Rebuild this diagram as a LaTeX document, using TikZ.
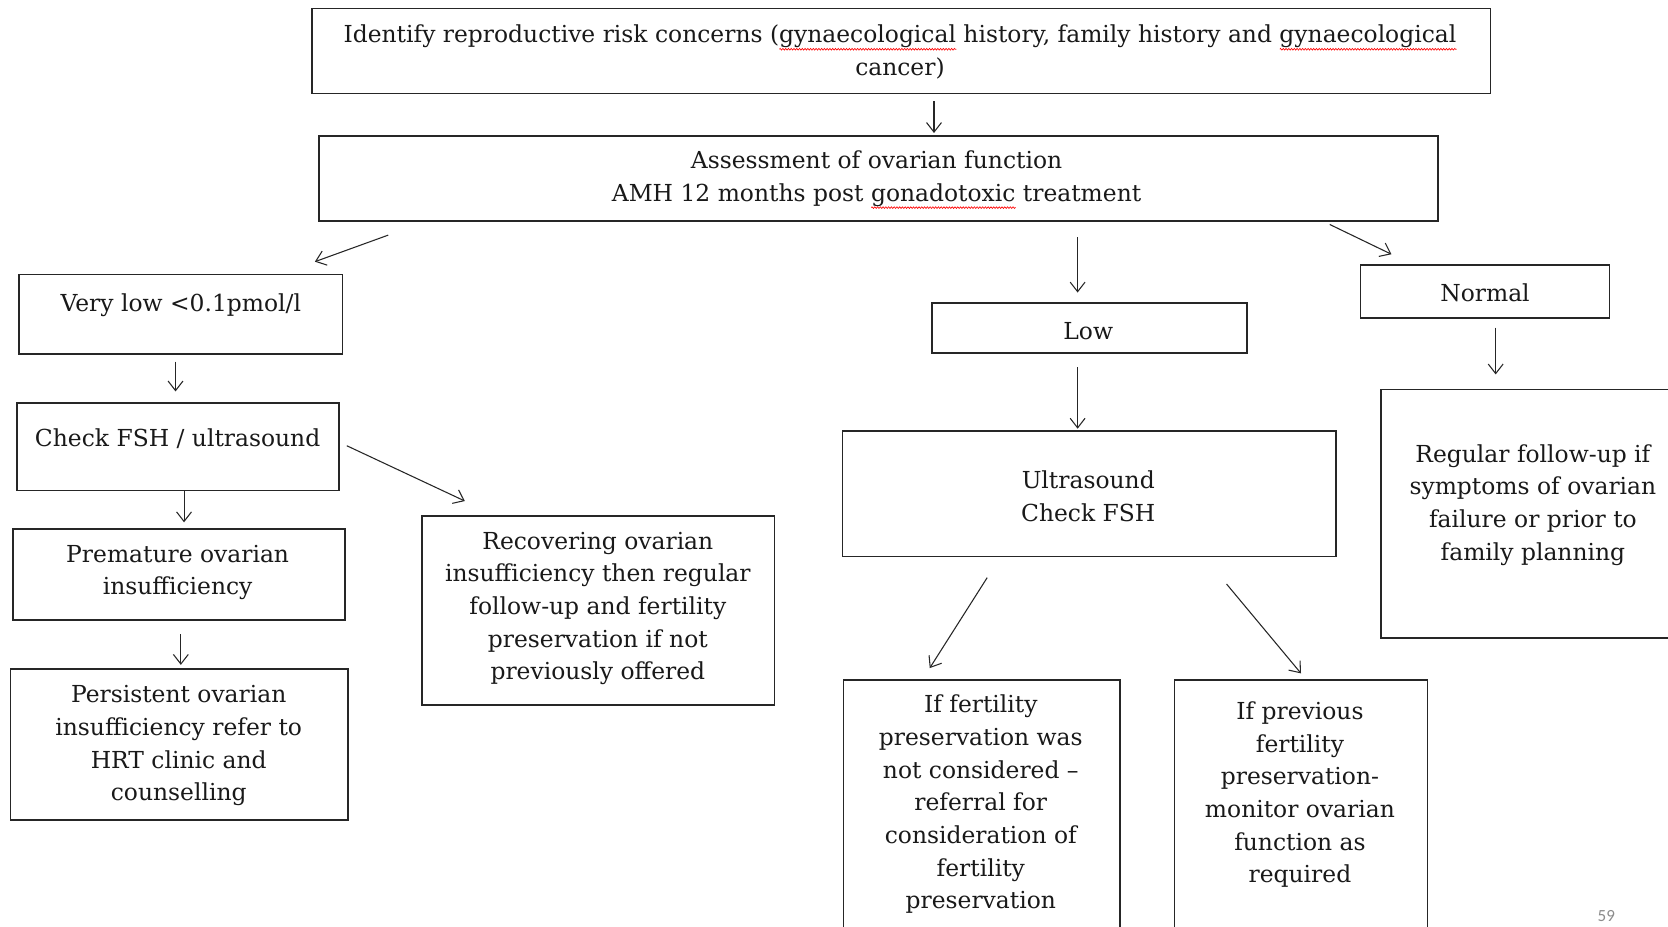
\documentclass[tikz,border=0pt]{standalone}
\usepackage{fontspec}
\setmainfont{DejaVu Serif}
\newfontfamily\pagenumfont{Carlito}
\usetikzlibrary{arrows.meta,decorations.pathmorphing}
\newsavebox\sqbox
\newcommand\redsq[1]{\sbox\sqbox{#1}\rlap{\tikz[baseline=0pt,x=1pt,y=1pt]{\draw[red,line width=0.6pt,decorate,decoration={zigzag,segment length=2.6pt,amplitude=0.8pt}] (0pt,-6pt) -- (\wd\sqbox,-6pt);}}\usebox\sqbox}
\begin{document}
\begin{tikzpicture}[x=1pt,y=-1pt,
  box/.style={draw=black!85, line width=1.6pt, inner sep=0pt, rectangle},
  txt/.style={align=center, inner sep=0pt, text=black!90, font=\fontsize{22}{30.7}\selectfont},
  arr/.style={draw=black!85, line width=1pt, -{Straight Barb[length=9pt,width=14pt,line width=1pt]}}]
\useasboundingbox (0,0) rectangle (1568,871);
\clip (0,0) rectangle (1568,871);
\fill[white] (0,0) rectangle (1568,871);

% boxes
\node[box, minimum width=1108pt, minimum height=80pt] (b1) at (847,48) {};
\node[box, minimum width=1052pt, minimum height=80pt] (b2) at (826,168) {};
\node[box, minimum width=304pt, minimum height=75pt] (b3) at (170,295.5) {};
\node[box, minimum width=303pt, minimum height=82pt] (b4) at (167.5,420) {};
\node[box, minimum width=312pt, minimum height=86pt] (b5) at (168,540) {};
\node[box, minimum width=317pt, minimum height=142pt] (b6) at (168.5,700) {};
\node[box, minimum width=331pt, minimum height=178pt] (b7) at (562.5,574) {};
\node[box, minimum width=296pt, minimum height=47pt] (b8) at (1024,308.5) {};
\node[box, minimum width=234pt, minimum height=50pt] (b9) at (1396,274) {};
\node[box, minimum width=464pt, minimum height=118pt] (b10) at (1024,464) {};
\node[box, minimum width=322pt, minimum height=234pt] (b11) at (1459,483) {};
\node[box, minimum width=260pt, minimum height=262pt] (b12) at (923,770) {};
\node[box, minimum width=238pt, minimum height=262pt] (b13) at (1223,770) {};

% texts
\node[txt] (t1) at (846,49) {Identify reproductive risk concerns (\redsq{gynaecological} history, family history and \redsq{gynaecological}\\cancer)};
\node[txt] (t2) at (824,169) {Assessment of ovarian function\\AMH 12 months post \redsq{gonadotoxic} treatment};
\node[txt] (t3) at (170,287) {Very low <0.1pmol/l};
\node[txt] (t4) at (167,412) {Check FSH / ultrasound};
\node[txt] (t5) at (167,538) {Premature ovarian\\insufficiency};
\node[txt] (t6) at (168,701) {Persistent ovarian\\insufficiency refer to\\HRT clinic and\\counselling};
\node[txt] (t7) at (562,572) {Recovering ovarian\\insufficiency then regular\\follow-up and fertility\\preservation if not\\previously offered};
\node[txt] (t8) at (1023,311) {Low};
\node[txt] (t9) at (1396,275) {Normal};
\node[txt] (t10) at (1023,466.5) {Ultrasound\\Check FSH};
\node[txt] (t11) at (1441,474.5) {Regular follow-up if\\symptoms of ovarian\\failure or prior to\\family planning};
\node[txt] (t12) at (922,756) {If fertility\\preservation was\\not considered --\\referral for\\consideration of\\fertility\\preservation};
\node[txt] (t13) at (1222,747) {If previous\\fertility\\preservation-\\monitor ovarian\\function as\\required};
\node[text=black!45, inner sep=0pt, font=\pagenumfont\fontsize{16}{18}\selectfont] (pg) at (1510,861) {59};

% arrow end points
\coordinate (a1s) at (878,95);   \coordinate (a1e) at (878,125);
\coordinate (a2s) at (365,221);  \coordinate (a2e) at (296,246);
\coordinate (a3s) at (1013,223); \coordinate (a3e) at (1013,275);
\coordinate (a4s) at (1250,211); \coordinate (a4e) at (1308,239);
\coordinate (a5s) at (165,340);  \coordinate (a5e) at (165,368);
\coordinate (a6s) at (173,462);  \coordinate (a6e) at (173,491);
\coordinate (a7s) at (170,596);  \coordinate (a7e) at (170,625);
\coordinate (a8s) at (326,419);  \coordinate (a8e) at (437,471);
\coordinate (a9s) at (1013,345); \coordinate (a9e) at (1013,403);
\coordinate (a10s) at (1406,308); \coordinate (a10e) at (1406,352);
\coordinate (a11s) at (928,543); \coordinate (a11e) at (874,628);
\coordinate (a12s) at (1153,549); \coordinate (a12e) at (1223,633);

\foreach \i in {1,...,12} {\draw[arr] (a\i s) -- (a\i e);}
\end{tikzpicture}
\end{document}
